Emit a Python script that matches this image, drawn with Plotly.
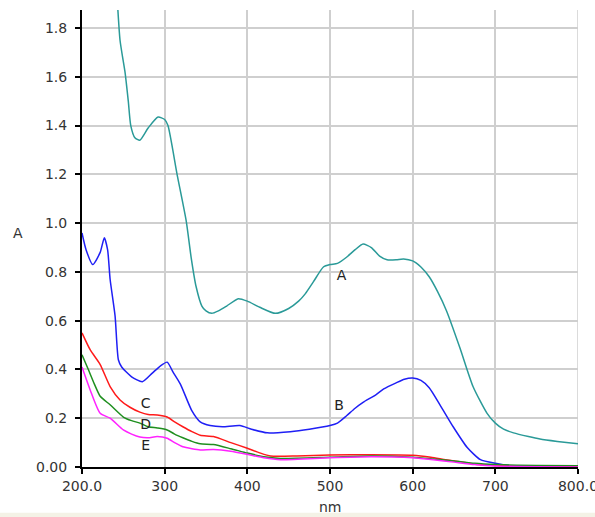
import plotly.graph_objects as go

# Curve A (teal)
a_nm = [200, 220, 240, 246, 252, 256, 259, 264, 270, 280, 292, 300, 304, 315, 326, 332, 338, 345, 350, 357, 365, 375, 389, 400, 415, 434, 450, 462, 470, 480, 492, 500, 509, 520, 530, 540, 550, 560, 569, 580, 589, 600, 610, 620, 630, 641, 657, 673, 690, 700, 710, 722, 740, 754, 775, 800]
a_val = [3.2, 2.7, 2.05, 1.75, 1.62, 1.50, 1.40, 1.35, 1.34, 1.39, 1.435, 1.425, 1.40, 1.20, 1.01, 0.86, 0.74, 0.66, 0.64, 0.63, 0.64, 0.66, 0.69, 0.68, 0.655, 0.63, 0.65, 0.68, 0.71, 0.76, 0.82, 0.83, 0.835, 0.86, 0.89, 0.914, 0.90, 0.865, 0.85, 0.85, 0.853, 0.845, 0.82, 0.78, 0.72, 0.64, 0.49, 0.33, 0.22, 0.18, 0.155, 0.14, 0.125, 0.115, 0.105, 0.095]

# Curve B (blue)
b_nm = [200, 205, 213, 222, 227, 231, 234, 240, 244, 248, 260, 273, 285, 295, 303, 310, 319, 333, 343, 355, 370, 391, 405, 424, 452, 475, 500, 509, 520, 530, 540, 555, 565, 580, 590, 600, 610, 620, 633, 649, 666, 682, 700, 720, 760, 800]
b_val = [0.96, 0.89, 0.83, 0.88, 0.94, 0.89, 0.77, 0.62, 0.44, 0.41, 0.37, 0.35, 0.385, 0.415, 0.43, 0.39, 0.34, 0.23, 0.185, 0.17, 0.165, 0.17, 0.155, 0.14, 0.145, 0.155, 0.17, 0.18, 0.21, 0.24, 0.265, 0.295, 0.32, 0.345, 0.36, 0.365, 0.355, 0.325, 0.255, 0.165, 0.08, 0.03, 0.015, 0.005, 0.003, 0.003]

# Curve C (red)
c_nm = [200, 210, 222, 234, 246, 258, 270, 280, 291, 303, 312, 322, 333, 343, 359, 380, 400, 415, 428, 460, 500, 550, 600, 622, 640, 661, 680, 700, 750, 800]
c_val = [0.55, 0.48, 0.42, 0.33, 0.275, 0.245, 0.225, 0.215, 0.213, 0.205, 0.185, 0.165, 0.145, 0.13, 0.125, 0.10, 0.077, 0.058, 0.045, 0.045, 0.049, 0.05, 0.048, 0.04, 0.03, 0.02, 0.01, 0.006, 0.003, 0.002]

# Curve D (green)
d_nm = [200, 207, 215, 222, 234, 250, 260, 270, 280, 291, 303, 312, 322, 333, 343, 359, 380, 400, 420, 440, 500, 550, 600, 625, 650, 675, 700, 750, 800]
d_val = [0.46, 0.405, 0.34, 0.29, 0.255, 0.205, 0.19, 0.18, 0.165, 0.16, 0.152, 0.135, 0.12, 0.105, 0.095, 0.092, 0.075, 0.057, 0.042, 0.035, 0.04, 0.045, 0.04, 0.033, 0.025, 0.015, 0.01, 0.006, 0.005]

# Curve E (magenta)
e_nm = [200, 210, 222, 234, 250, 260, 270, 280, 291, 303, 312, 322, 333, 343, 359, 380, 400, 420, 440, 500, 550, 600, 625, 650, 675, 700, 750, 800]
e_val = [0.41, 0.315, 0.22, 0.20, 0.152, 0.135, 0.123, 0.12, 0.125, 0.118, 0.10, 0.083, 0.075, 0.07, 0.072, 0.065, 0.052, 0.038, 0.03, 0.038, 0.042, 0.038, 0.03, 0.02, 0.01, 0.004, 0.001, 0.0]

series = [
    ("A", a_nm, a_val, "#2a9a98"),
    ("B", b_nm, b_val, "#1f1ff5"),
    ("C", c_nm, c_val, "#ff1a1a"),
    ("D", d_nm, d_val, "#1f8f1f"),
    ("E", e_nm, e_val, "#ff22ff"),
]

# Curve labels
lab_text = ["A", "B", "C", "D", "E"]
lab_x = [514, 511, 277, 277, 277]
lab_y = [0.78, 0.25, 0.255, 0.172, 0.086]

x_ticks = [200, 300, 400, 500, 600, 700, 800]
x_ticktext = ["200.0", "300", "400", "500", "600", "700", "800.0"]
y_ticks = [0, 0.2, 0.4, 0.6, 0.8, 1.0, 1.2, 1.4, 1.6, 1.8]
y_ticktext = ["0.00", "0.2", "0.4", "0.6", "0.8", "1.0", "1.2", "1.4", "1.6", "1.8"]

FONT = "DejaVu Sans"

fig = go.Figure()
for name, xs, ys, col in series:
    fig.add_trace(go.Scatter(x=xs, y=ys, mode="lines", name=name,
                             line=dict(color=col, width=1.5, shape="spline", smoothing=0.6),
                             showlegend=False, hoverinfo="skip"))

fig.add_trace(go.Scatter(x=lab_x, y=lab_y, mode="text", text=lab_text,
                         textfont=dict(family=FONT, size=14, color="#222"),
                         showlegend=False, hoverinfo="skip"))

fig.update_layout(
    width=595, height=517,
    margin=dict(l=82, r=17, t=10, b=50),
    paper_bgcolor="white", plot_bgcolor="white",
    font=dict(family=FONT, size=14, color="#333"),
    xaxis=dict(range=[200, 800], tickvals=x_ticks, ticktext=x_ticktext,
               showgrid=True, gridcolor="#cfcfcf", gridwidth=1.5,
               showline=True, linecolor="black", linewidth=2,
               ticks="outside", ticklen=5, tickcolor="black", tickwidth=1.5,
               ticklabeloverflow="allow",
               zeroline=False, automargin=False),
    yaxis=dict(range=[0, 1.874], tickvals=y_ticks, ticktext=y_ticktext,
               showgrid=True, gridcolor="#cfcfcf", gridwidth=1.5,
               showline=True, linecolor="black", linewidth=2,
               ticks="outside", ticklen=5, tickcolor="black", tickwidth=1.5,
               ticklabelstandoff=5,
               zeroline=False, automargin=False),
    annotations=[
        dict(text="A", xref="paper", yref="paper", x=-0.129, y=0.512,
             showarrow=False, xanchor="center", yanchor="middle",
             font=dict(family=FONT, size=14, color="#333")),
        dict(text="nm", xref="paper", yref="paper", x=0.5, y=-0.088,
             showarrow=False, xanchor="center", yanchor="middle",
             font=dict(family=FONT, size=14, color="#333")),
    ],
    shapes=[
        dict(type="rect", xref="paper", yref="paper", x0=-0.2, x1=1.1,
             y0=-0.112, y1=-0.100, fillcolor="#f4f2e6", line=dict(width=0), layer="below"),
        dict(type="line", xref="x", yref="paper", x0=800, x1=800, y0=0, y1=1,
             line=dict(color="#cfcfcf", width=1.5), layer="below"),
    ],
)

fig.write_html("out.html", config={"displayModeBar": False},
               post_script="document.body.style.margin='0';")
